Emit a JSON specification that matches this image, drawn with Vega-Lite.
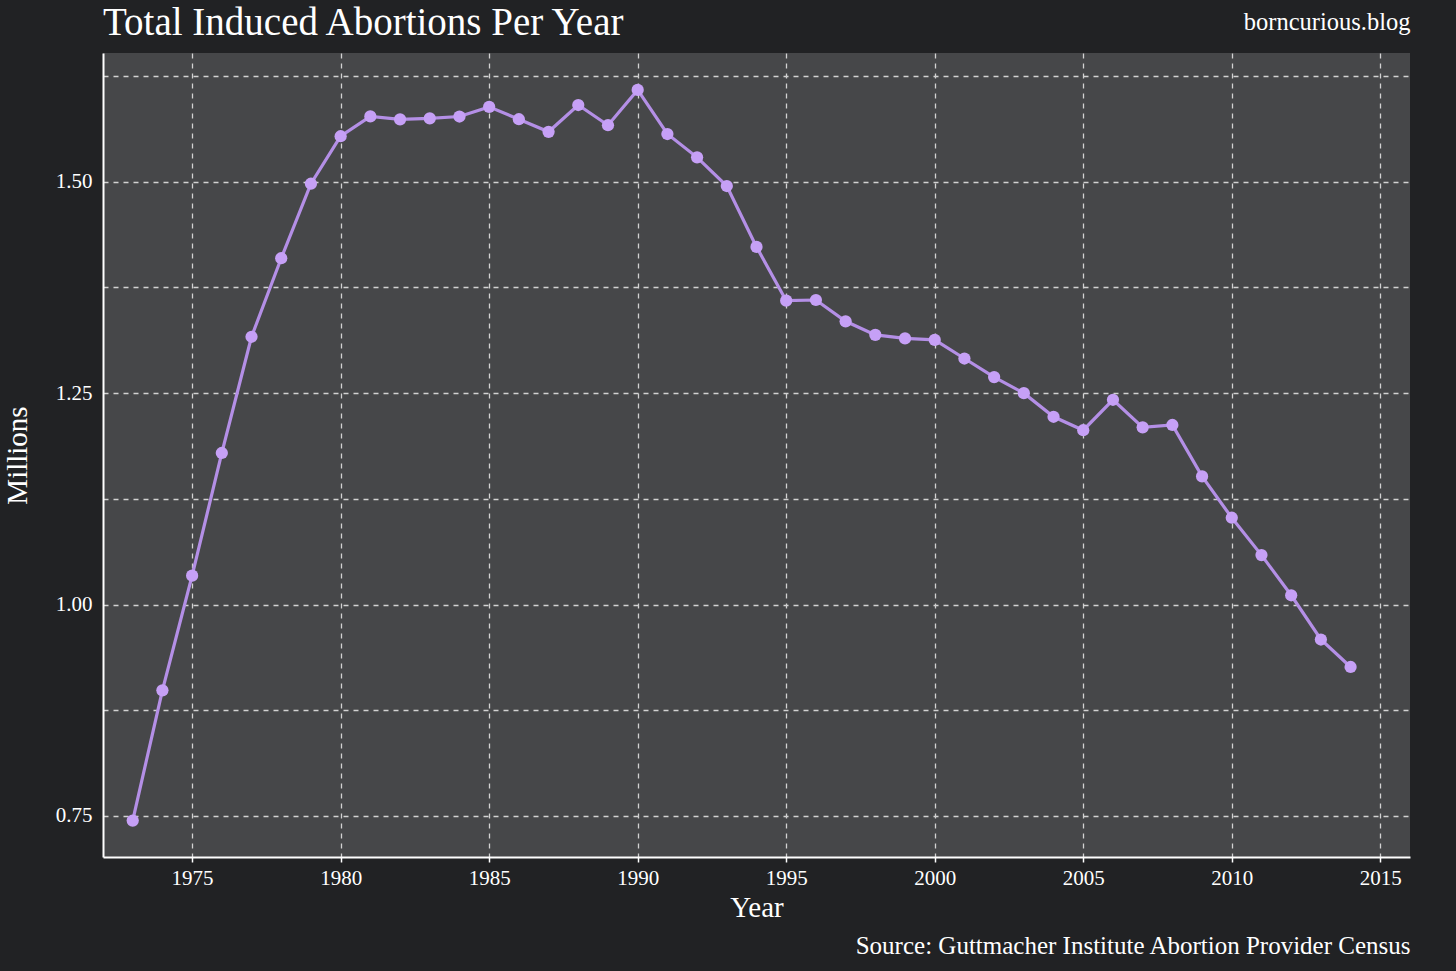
{
  "$schema": "https://vega.github.io/schema/vega-lite/v6.json",
  "autosize": "none",
  "width": 1307,
  "height": 804,
  "padding": {"left": 103, "top": 53, "right": 46, "bottom": 114},
  "background": "#212224",
  "view": {"fill": "#464749", "stroke": null},
  "config": {
    "font": "Liberation Serif",
    "axis": {"labelFont": "Liberation Serif", "titleFont": "Liberation Serif"}
  },
  "title": {
    "text": "Total Induced Abortions Per Year",
    "anchor": "start",
    "frame": "group",
    "font": "Liberation Serif",
    "fontSize": 39,
    "fontWeight": "normal",
    "color": "#ffffff",
    "baseline": "alphabetic",
    "offset": 18,
    "dy": 83
  },
  "data": {
    "values": [
      {"year": 1973, "millions": 0.7446},
      {"year": 1974, "millions": 0.8986},
      {"year": 1975, "millions": 1.0342},
      {"year": 1976, "millions": 1.1793},
      {"year": 1977, "millions": 1.3167},
      {"year": 1978, "millions": 1.4096},
      {"year": 1979, "millions": 1.4977},
      {"year": 1980, "millions": 1.5539},
      {"year": 1981, "millions": 1.5773},
      {"year": 1982, "millions": 1.5739},
      {"year": 1983, "millions": 1.5750},
      {"year": 1984, "millions": 1.5772},
      {"year": 1985, "millions": 1.5886},
      {"year": 1986, "millions": 1.5740},
      {"year": 1987, "millions": 1.5591},
      {"year": 1988, "millions": 1.5908},
      {"year": 1989, "millions": 1.5669},
      {"year": 1990, "millions": 1.6086},
      {"year": 1991, "millions": 1.5565},
      {"year": 1992, "millions": 1.5289},
      {"year": 1993, "millions": 1.4950},
      {"year": 1994, "millions": 1.4230},
      {"year": 1995, "millions": 1.3594},
      {"year": 1996, "millions": 1.3602},
      {"year": 1997, "millions": 1.3350},
      {"year": 1998, "millions": 1.3190},
      {"year": 1999, "millions": 1.3148},
      {"year": 2000, "millions": 1.3130},
      {"year": 2001, "millions": 1.2910},
      {"year": 2002, "millions": 1.2690},
      {"year": 2003, "millions": 1.2500},
      {"year": 2004, "millions": 1.2221},
      {"year": 2005, "millions": 1.2062},
      {"year": 2006, "millions": 1.2422},
      {"year": 2007, "millions": 1.2096},
      {"year": 2008, "millions": 1.2124},
      {"year": 2009, "millions": 1.1516},
      {"year": 2010, "millions": 1.1027},
      {"year": 2011, "millions": 1.0585},
      {"year": 2012, "millions": 1.0110},
      {"year": 2013, "millions": 0.9587},
      {"year": 2014, "millions": 0.9262}
    ]
  },
  "resolve": {"axis": {"x": "independent"}},
  "layer": [
    {
      "mark": {"type": "line", "color": "#b48fe6", "strokeWidth": 3.2},
      "encoding": {
        "x": {
          "field": "year", "type": "quantitative",
          "scale": {"domain": [1972, 2016], "nice": false, "zero": false},
          "axis": {
            "orient": "bottom",
            "title": "Year",
            "values": [1975, 1980, 1985, 1990, 1995, 2000, 2005, 2010, 2015],
            "format": "d",
            "grid": true,
            "gridColor": "#d2d2d2",
            "gridDash": [5, 5],
            "gridWidth": 1.3,
            "gridOpacity": 1,
            "domain": true,
            "domainColor": "#ffffff",
            "domainWidth": 2,
            "ticks": true,
            "tickColor": "#ffffff",
            "tickWidth": 1.5,
            "tickSize": 5,
            "labelColor": "#ffffff",
            "labelFontSize": 21,
            "labelPadding": 5,
            "labelFont": "Liberation Serif",
            "titleColor": "#ffffff",
            "titleFontSize": 29,
            "titleFontWeight": "normal",
            "titleFont": "Liberation Serif",
            "titleBaseline": "alphabetic",
            "titleY": 59
          }
        },
        "y": {
          "field": "millions", "type": "quantitative",
          "scale": {"domain": [0.7015, 1.6523], "nice": false, "zero": false},
          "axis": {
            "title": "Millions",
            "values": [0.75, 0.875, 1.0, 1.125, 1.25, 1.375, 1.5, 1.625],
            "labelExpr": "(datum.value * 4) % 1 == 0 ? format(datum.value, '.2f') : ''",
            "grid": true,
            "gridColor": "#d2d2d2",
            "gridDash": [5, 5],
            "gridWidth": 1.3,
            "gridOpacity": 1,
            "domain": true,
            "domainColor": "#ffffff",
            "domainWidth": 2,
            "ticks": false,
            "labelColor": "#ffffff",
            "labelFontSize": 21,
            "labelPadding": 11,
            "labelFont": "Liberation Serif",
            "titleColor": "#ffffff",
            "titleFontSize": 29,
            "titleFontWeight": "normal",
            "titleFont": "Liberation Serif",
            "titleBaseline": "alphabetic",
            "titleX": -77
          }
        }
      }
    },
    {
      "mark": {"type": "point", "filled": true, "color": "#c6a0f6", "size": 150, "opacity": 1},
      "encoding": {
        "x": {
          "field": "year", "type": "quantitative",
          "scale": {"domain": [1972, 2016], "nice": false, "zero": false},
          "axis": {
            "orient": "top",
            "title": "borncurious.blog",
            "titleAnchor": "end",
            "titleAlign": "right",
            "titleBaseline": "alphabetic",
            "titleY": -24,
            "titleColor": "#ffffff",
            "titleFontSize": 24.5,
            "titleFontWeight": "normal",
            "titleFont": "Liberation Serif",
            "labels": false,
            "ticks": false,
            "domain": false,
            "grid": false
          }
        },
        "y": {"field": "millions", "type": "quantitative"}
      }
    },
    {
      "mark": {"type": "point", "opacity": 0},
      "encoding": {
        "x": {
          "field": "year", "type": "quantitative",
          "scale": {"domain": [1972, 2016], "nice": false, "zero": false},
          "axis": {
            "orient": "bottom",
            "title": "Source: Guttmacher Institute Abortion Provider Census",
            "titleAnchor": "end",
            "titleAlign": "right",
            "titleBaseline": "alphabetic",
            "titleY": 96,
            "titleColor": "#ffffff",
            "titleFontSize": 25,
            "titleFontWeight": "normal",
            "titleFont": "Liberation Serif",
            "labels": false,
            "ticks": false,
            "domain": false,
            "grid": false
          }
        },
        "y": {"field": "millions", "type": "quantitative"}
      }
    }
  ]
}
